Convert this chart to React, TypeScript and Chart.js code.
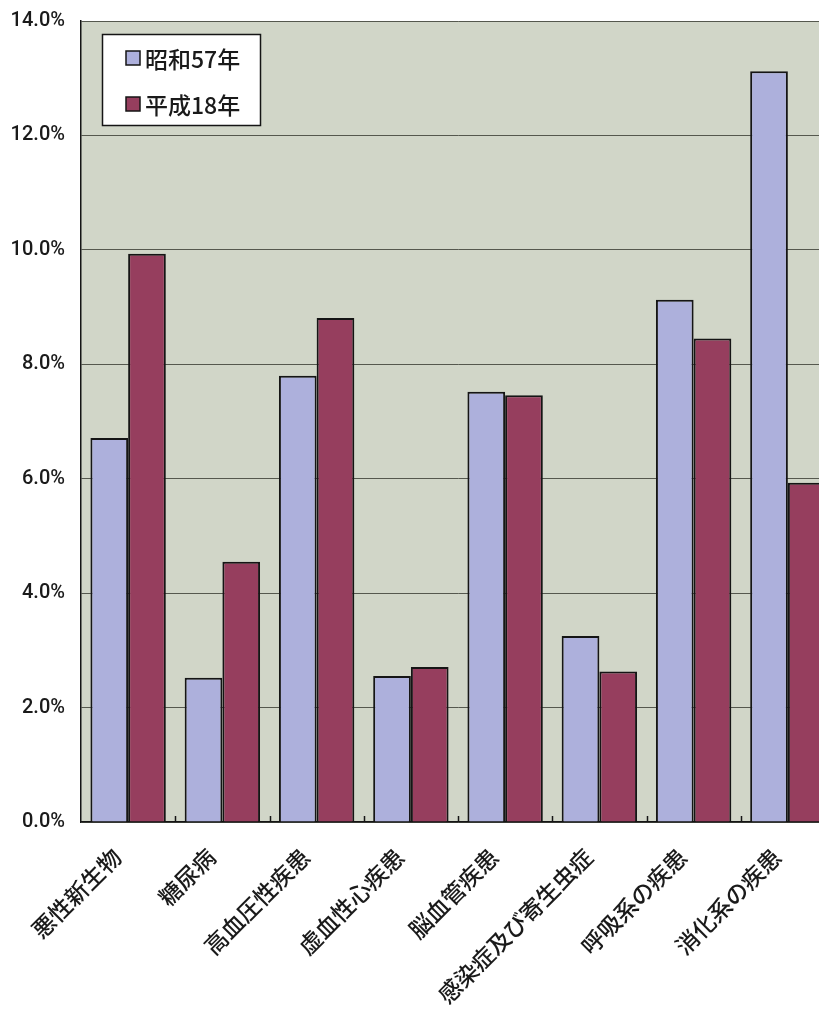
import React, { useEffect, useRef } from "react";
import { Chart, registerables } from "chart.js";

Chart.register(...registerables);

// 疾病分類別の割合（%）
const categories = [
  "悪性新生物",
  "糖尿病",
  "高血圧性疾患",
  "虚血性心疾患",
  "脳血管疾患",
  "感染症及び寄生虫症",
  "呼吸系の疾患",
  "消化系の疾患",
];
const seriesNames = ["昭和57年", "平成18年"];
const showa57 = [6.71, 2.52, 7.8, 2.55, 7.52, 3.25, 9.13, 13.12];
const heisei18 = [9.93, 4.55, 8.81, 2.71, 7.46, 2.63, 8.45, 5.93];
const yTicks = [0, 2, 4, 6, 8, 10, 12, 14];

const BLUE = "#adb0dc";
const RED = "#963e5e";
const PLOT_BG = "#d1d6c8";
const LINE = "#151515";
const GRID = "#55584e";
const JP_FONT = '"Noto Sans CJK JP", "Noto Sans", sans-serif';
const NUM_FONT = 'Roboto, "Liberation Sans", Arial, sans-serif';

const CANVAS_W = 850;
const CANVAS_H = 1010;

// Plot background fill
const plotBackground = {
  id: "plotBackground",
  beforeDraw(chart: any) {
    const { ctx, chartArea: a } = chart;
    ctx.save();
    ctx.fillStyle = PLOT_BG;
    ctx.fillRect(a.left, a.top, a.right - a.left, a.bottom - a.top);
    ctx.restore();
  },
};

// Short inward tick marks between categories on the x axis
const innerTicks = {
  id: "innerTicks",
  afterDatasetsDraw(chart: any) {
    const { ctx, chartArea: a } = chart;
    const xs = chart.scales.x;
    ctx.save();
    ctx.strokeStyle = LINE;
    ctx.lineWidth = 1.5;
    for (let i = 1; i < categories.length; i++) {
      const x = Math.round((xs.getPixelForTick(i - 1) + xs.getPixelForTick(i)) / 2) + 0.5;
      ctx.beginPath();
      ctx.moveTo(x, a.bottom);
      ctx.lineTo(x, a.bottom - 6);
      ctx.stroke();
    }
    ctx.restore();
  },
};

// Boxed legend inside the upper-left corner of the plot
const boxedLegend = {
  id: "boxedLegend",
  afterDraw(chart: any) {
    const { ctx, chartArea: a } = chart;
    const bx = a.left + 21;
    const by = a.top + 13;
    const bw = 158;
    const bh = 91;
    ctx.save();
    ctx.fillStyle = "#ffffff";
    ctx.fillRect(bx, by, bw, bh);
    ctx.strokeStyle = LINE;
    ctx.lineWidth = 1.5;
    ctx.strokeRect(bx + 0.5, by + 0.5, bw, bh);
    const colors = [BLUE, RED];
    ctx.font = `500 23px ${JP_FONT}`;
    ctx.textBaseline = "middle";
    ctx.textAlign = "left";
    seriesNames.forEach((name, i) => {
      const cy = by + 24 + i * 46;
      ctx.fillStyle = colors[i];
      ctx.fillRect(bx + 24, cy - 7, 14, 14);
      ctx.strokeStyle = LINE;
      ctx.lineWidth = 1.5;
      ctx.strokeRect(bx + 24, cy - 7, 14, 14);
      ctx.fillStyle = "#1a1a1a";
      ctx.fillText(name, bx + 43, cy + 1);
    });
    ctx.restore();
  },
};

export default function App() {
  const canvasRef = useRef<HTMLCanvasElement | null>(null);

  useEffect(() => {
    if (!canvasRef.current) return;
    const chart = new Chart(canvasRef.current, {
      type: "bar",
      data: {
        labels: categories,
        datasets: [
          {
            label: seriesNames[0],
            data: showa57,
            backgroundColor: BLUE,
            borderColor: LINE,
            borderWidth: 2,
            borderSkipped: "bottom",
          },
          {
            label: seriesNames[1],
            data: heisei18,
            backgroundColor: RED,
            borderColor: LINE,
            borderWidth: 2,
            borderSkipped: "bottom",
          },
        ],
      },
      options: {
        responsive: false,
        animation: false,
        layout: { padding: { left: 0, top: 21, right: 15, bottom: 0 } },
        plugins: {
          legend: { display: false },
          tooltip: { enabled: false },
          title: { display: false },
        },
        datasets: {
          bar: { categoryPercentage: 0.8, barPercentage: 1.0 },
        },
        scales: {
          x: {
            grid: { display: false, drawTicks: false },
            border: { display: true, color: LINE, width: 1.5 },
            afterFit(scale: any) {
              scale.height = 188;
              scale.paddingLeft = 0;
              scale.paddingRight = 0;
            },
            ticks: {
              autoSkip: false,
              minRotation: 45,
              maxRotation: 45,
              padding: 21,
              labelOffset: -11,
              color: "#1a1a1a",
              font: { family: JP_FONT, size: 23, weight: "500" },
            },
          },
          y: {
            min: 0,
            max: 14,
            afterFit(scale: any) {
              scale.width = 81;
              scale.paddingTop = 0;
              scale.paddingBottom = 0;
            },
            afterBuildTicks(scale: any) {
              scale.ticks = yTicks.map((v) => ({ value: v }));
            },
            grid: { color: GRID, lineWidth: 1, drawTicks: false },
            border: { display: true, color: LINE, width: 1.5 },
            ticks: {
              padding: 16,
              color: "#1a1a1a",
              font: { family: NUM_FONT, size: 20, weight: "500" },
              callback: (v: any) => `${Number(v).toFixed(1)}%`,
            },
          },
        },
      },
      plugins: [plotBackground, innerTicks, boxedLegend],
    });
    return () => chart.destroy();
  }, []);

  return (
    <div
      style={{
        position: "fixed",
        left: 0,
        top: 0,
        width: 819,
        height: CANVAS_H,
        overflow: "hidden",
        background: "#ffffff",
      }}
    >
      <canvas
        ref={canvasRef}
        width={CANVAS_W}
        height={CANVAS_H}
        style={{ width: CANVAS_W, height: CANVAS_H, display: "block" }}
      />
    </div>
  );
}
